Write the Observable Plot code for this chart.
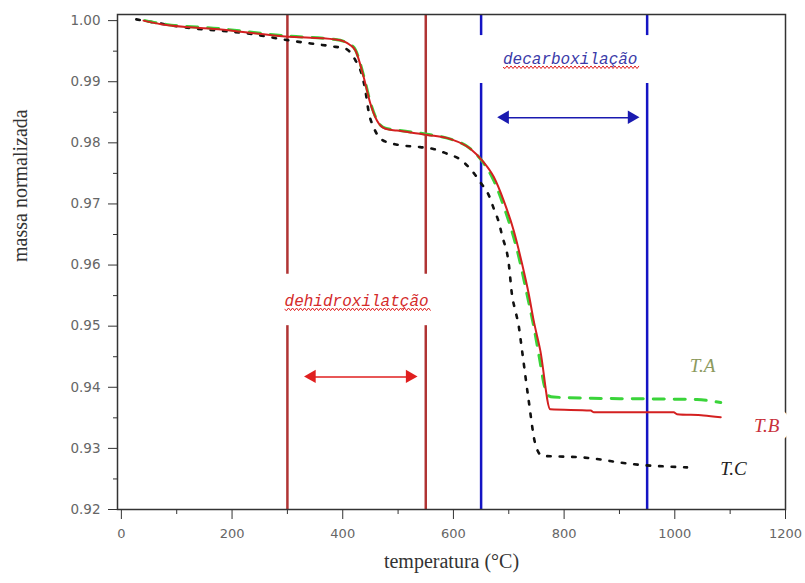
<!DOCTYPE html>
<html><head><meta charset="utf-8">
<script src="https://cdn.jsdelivr.net/npm/d3@7"></script>
<script src="https://cdn.jsdelivr.net/npm/@observablehq/plot@0.6"></script>
<style>
body{margin:0;background:#fff;}
g[aria-label$="tick label"]{ fill:#666; }
</style></head><body><div id="chart"></div>
<script>
// Series: temperature (°C) and normalized mass
const tA_T = [43, 72, 175, 296, 387, 402, 412, 423, 438, 450, 462, 477, 498, 552, 595, 631, 652, 673, 694, 715, 733, 745, 755, 765, 772, 781, 850, 950, 1040, 1070, 1083];
const tA_m = [1.000, 0.9995, 0.9987, 0.9975, 0.9969, 0.9966, 0.9962, 0.9952, 0.9909, 0.9866, 0.9837, 0.9824, 0.9821, 0.9814, 0.9806, 0.9790, 0.9770, 0.9738, 0.9688, 0.9625, 0.9552, 0.9500, 0.9450, 0.9400, 0.9386, 0.9384, 0.9382, 0.9381, 0.9380, 0.9377, 0.9375];

const tB_T = [40, 72, 175, 296, 387, 402, 412, 423, 438, 450, 462, 477, 498, 552, 595, 631, 652, 673, 691, 709, 724, 736, 745, 757, 775, 848, 854, 998, 1004, 1052, 1083];
const tB_m = [1.000, 0.9994, 0.9986, 0.9974, 0.9969, 0.9966, 0.9961, 0.9951, 0.9907, 0.9864, 0.9836, 0.9823, 0.9820, 0.9813, 0.9806, 0.9790, 0.9771, 0.9744, 0.9705, 0.9656, 0.9602, 0.9553, 0.9509, 0.9460, 0.9364, 0.9362, 0.9359, 0.9359, 0.9356, 0.9354, 0.9351];

const tC_T = [27, 115, 236, 307, 379, 405, 423, 435, 441, 447, 456, 471, 498, 540, 564, 589, 610, 631, 649, 664, 673, 682, 688, 700, 706, 712, 718, 724, 736, 748, 760, 836, 926, 1022];
const tC_m = [1.0002, 0.9989, 0.9978, 0.9967, 0.9958, 0.9954, 0.9935, 0.9910, 0.9885, 0.9850, 0.9825, 0.9805, 0.9797, 0.9793, 0.9790, 0.9782, 0.9774, 0.9757, 0.9735, 0.9714, 0.9692, 0.9670, 0.9648, 0.9602, 0.9550, 0.9525, 0.9500, 0.9460, 0.9378, 0.9307, 0.9288, 0.9285, 0.9274, 0.9269];

// Region boundaries (°C)
const redLines = [300, 550];
const blueLines = [650, 950];
const redGap = [0.95850, 0.95008];   // where the label interrupts the red lines
const blueGap = [0.99755, 0.98969];  // where the label interrupts the blue lines

// Annotations
const regionLabels = ["dehidroxilatção", "decarboxilação"];
const regionLabelT = [425, 811];
const regionLabelM = [0.95417, 0.99378];
const regionColors = ["#d42a2a", "#3a3aa8"];
const arrowX1 = [345, 694];
const arrowX2 = [522, 923];
const arrowM = [0.9417, 0.9841];
const arrowColors = ["#e01f1f", "#1a1ab0"];

const seriesNames = ["T.A", "T.B", "T.C"];
const seriesLabelT = [1050, 1166, 1106];
const seriesLabelM = [0.94354, 0.93372, 0.92668];
const seriesLabelColors = ["#8c9a5e", "#c8303a", "#222222"];

// Axis ticks
const xTicks = [0, 200, 400, 600, 800, 1000, 1200];
const xMinor = [100, 300, 500, 700, 900, 1100];
const yTicks = [0.92, 0.93, 0.94, 0.95, 0.96, 0.97, 0.98, 0.99, 1.00];
const yMinor = [0.925, 0.935, 0.945, 0.955, 0.965, 0.975, 0.985, 0.995];

const toRows = (T, M) => T.map((t, i) => ({t, m: M[i]}));
const A = toRows(tA_T, tA_m), B = toRows(tB_T, tB_m), C = toRows(tC_T, tC_m);

const vSeg = (xs, gap) => xs.flatMap(x => [{x, y1: 1.001, y2: gap[0]}, {x, y1: gap[1], y2: 0.92}]);
const redSegs = vSeg(redLines, redGap);
const blueSegs = vSeg(blueLines, blueGap);
const arrows = arrowX1.map((x1, i) => ({x1, x2: arrowX2[i], y: arrowM[i], c: arrowColors[i]}));
const heads = arrows.flatMap(a => [{x: a.x1, y: a.y, c: a.c, r: -90, dx: 7.5}, {x: a.x2, y: a.y, c: a.c, r: 90, dx: -7.5}]);
const regions = regionLabels.map((s, i) => ({s, t: regionLabelT[i], m: regionLabelM[i], c: regionColors[i]}));
const sLabels = seriesNames.map((s, i) => ({s, t: seriesLabelT[i], m: seriesLabelM[i], c: seriesLabelColors[i]}));

const serif = "'Liberation Serif', 'Times New Roman', serif";
const chart = Plot.plot({
  width: 805, height: 583,
  marginLeft: 117, marginRight: 20, marginTop: 14, marginBottom: 74,
  style: {background: "white", fontFamily: "'DejaVu Sans', sans-serif"},
  x: {domain: [-7, 1200]},
  y: {domain: [0.92, 1.001]},
  marks: [
    Plot.ruleX(redSegs, {x: "x", y1: "y1", y2: "y2", stroke: "#b03434", strokeWidth: 2.5}),
    Plot.ruleX(blueSegs, {x: "x", y1: "y1", y2: "y2", stroke: "#1414c4", strokeWidth: 2.5}),
    Plot.line(C, {x: "t", y: "m", stroke: "#111", strokeWidth: 2.6, strokeDasharray: "3.5,9", curve: "monotone-x"}),
    Plot.line(A, {x: "t", y: "m", stroke: "#3ad43a", strokeWidth: 3, strokeDasharray: "11,10", curve: "monotone-x"}),
    Plot.line(B, {x: "t", y: "m", stroke: "#d42020", strokeWidth: 2, curve: "monotone-x"}),
    Plot.ruleY(arrows, {x1: "x1", x2: "x2", y: "y", stroke: "c", strokeWidth: 1.5}),
    Plot.dot(heads, {x: "x", y: "y", fill: "c", stroke: null, symbol: "triangle", r: 5, rotate: "r", dx: "dx"}),
    Plot.frame({stroke: "#333", strokeWidth: 1.5}),
    Plot.text(regions, {x: "t", y: "m", text: "s", fill: "c", fontSize: 16, fontStyle: "italic", fontFamily: "'Liberation Mono', monospace"}),
    Plot.text(sLabels, {x: "t", y: "m", text: "s", fill: "c", stroke: "white", strokeWidth: 20, fontSize: 19, fontStyle: "italic", fontFamily: serif}),
    Plot.axisX({ticks: xTicks, tickSize: 10, tickPadding: 9, fontSize: 13, stroke: "#333", tickFormat: d3.format("d")}),
    Plot.axisX({ticks: xMinor, tickSize: 5, stroke: "#333", tickFormat: () => ""}),
    Plot.axisY({ticks: yTicks, tickSize: 9, tickPadding: 8, fontSize: 13.5, stroke: "#333", tickFormat: d3.format(".2f"), label: null}),
    Plot.axisY({ticks: yMinor, tickSize: 4, stroke: "#333", tickFormat: () => "", label: null}),
    Plot.text(["massa normalizada"], {frameAnchor: "left", dx: -97, rotate: -90, fontSize: 20, fontFamily: serif, fill: "#333"}),
    Plot.text(["temperatura (°C)"], {frameAnchor: "bottom", dy: 58, fontSize: 20, fontFamily: serif, fill: "#333"})
  ]
});
document.getElementById("chart").append(chart);

// Red wavy (spell-check style) underline beneath the two region labels
chart.querySelectorAll("text").forEach(t => {
  if (!regionLabels.includes(t.textContent)) return;
  const b = t.getBBox();
  const y0 = b.y + b.height - 1.5;
  const amp = 1.3, half = 2;
  let d = `M${b.x},${y0}`;
  for (let x = b.x, k = 0; x < b.x + b.width; x += half, k++) {
    d += ` L${x + half},${y0 + (k % 2 ? -amp : amp)}`;
  }
  const p = document.createElementNS("http://www.w3.org/2000/svg", "path");
  p.setAttribute("d", d);
  p.setAttribute("fill", "none");
  p.setAttribute("stroke", "#e02020");
  p.setAttribute("stroke-width", "1");
  const tr = t.getAttribute("transform");
  if (tr) p.setAttribute("transform", tr);
  t.parentNode.appendChild(p);
});
</script></body></html>
